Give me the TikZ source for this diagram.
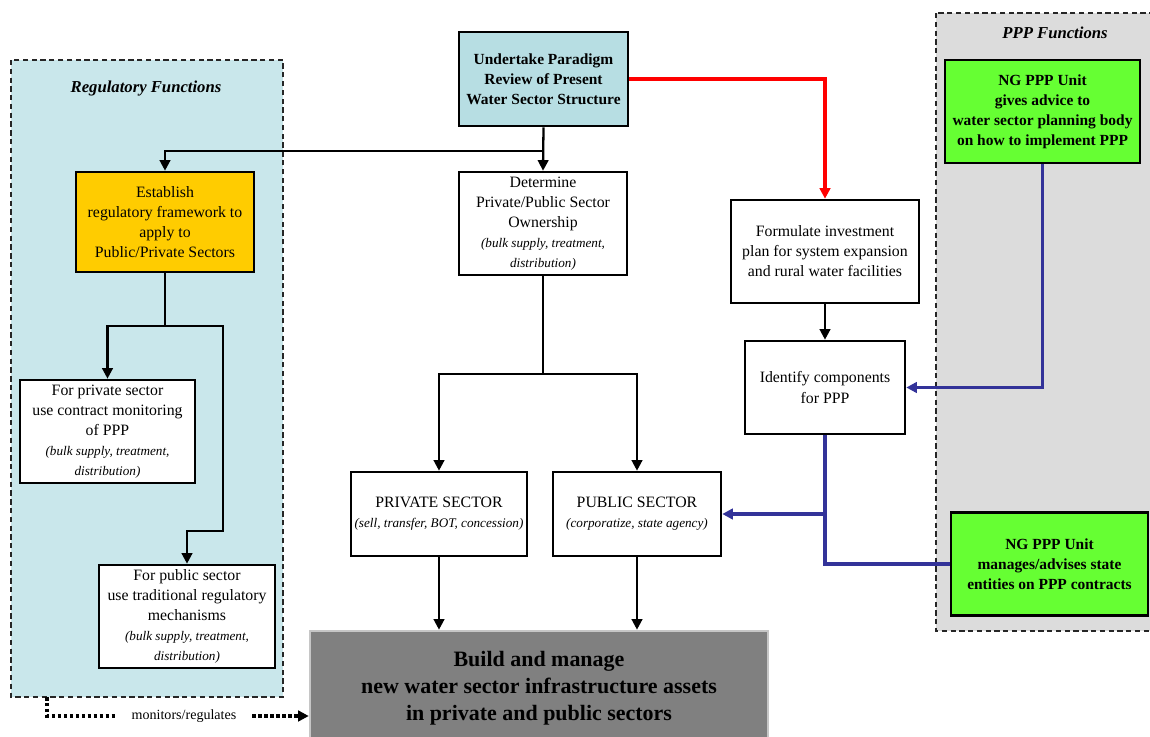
\documentclass[tikz,border=0pt]{standalone}
\usepackage{fontspec}
\setmainfont{Liberation Serif}
\usetikzlibrary{arrows.meta}
\definecolor{regfill}{HTML}{C9E7EB}
\definecolor{pppfill}{HTML}{DCDCDC}
\definecolor{reviewfill}{HTML}{B7DEE3}
\definecolor{framegold}{HTML}{FFCC00}
\definecolor{nggreen}{HTML}{66FF33}
\definecolor{buildgray}{HTML}{808080}
\definecolor{pppblue}{HTML}{333399}
\newcommand{\subtxt}[1]{{\fontsize{7.5}{9}\selectfont\itshape #1}}
\begin{document}
\begin{tikzpicture}[x=0.02cm,y=-0.02cm,>={Triangle[length=6pt,width=6pt]},
	box/.style={draw,line width=1.5pt,align=center,inner sep=2pt,font=\fontsize{9}{11.4}\selectfont},
	boldbox/.style={box,font=\fontsize{8.8}{11.4}\selectfont\bfseries},
	area/.style={draw,densely dashed,line width=0.6pt,gray!30!black},
	areatitle/.style={font=\fontsize{9.5}{11}\selectfont\bfseries\itshape},
	link/.style={line width=1.3pt},
	redlink/.style={line width=2pt,red},
	bluelink/.style={line width=2pt,pppblue},
	dotlink/.style={line width=1.8pt,dash pattern=on 2pt off 1.4pt}]
	\useasboundingbox (0,0) rectangle (1150,737);
	% shaded function areas
	\fill[regfill] (11,60) rectangle (283,697);
	\draw[area] (11,60) rectangle (283,697);
	\node[areatitle] (regtitle) at (146,89) {Regulatory Functions};
	\fill[pppfill] (936,13) rectangle (1152,631);
	\draw[area] (936,13) rectangle (1152,631);
	\node[areatitle] (ppptitle) at (1055,33) {PPP Functions};
	% boxes
	\node[boldbox,fill=reviewfill,minimum width=3.38cm,minimum height=1.88cm] (review) at (543.5,79)
		{Undertake Paradigm\\Review of Present\\Water Sector Structure};
	\node[box,fill=framegold,minimum width=3.56cm,minimum height=2cm] (frame) at (165,222)
		{Establish\\regulatory framework to\\apply to\\Public/Private Sectors};
	\node[box,fill=white,minimum width=3.36cm,minimum height=2.06cm] (owner) at (543,223.5)
		{Determine\\Private/Public Sector\\Ownership\\\subtxt{(bulk supply, treatment,}\\\subtxt{distribution)}};
	\node[box,fill=white,minimum width=3.76cm,minimum height=2.06cm] (invest) at (825,251.5)
		{Formulate investment\\plan for system expansion\\and rural water facilities};
	\node[box,fill=white,minimum width=3.2cm,minimum height=1.86cm] (ident) at (825,387.5)
		{Identify components\\for PPP};
	\node[box,fill=white,minimum width=3.5cm,minimum height=2.06cm] (privmon) at (107.5,431.5)
		{For private sector\\use contract monitoring\\of PPP\\\subtxt{(bulk supply, treatment,}\\\subtxt{distribution)}};
	\node[box,fill=white,minimum width=3.52cm,minimum height=2.06cm] (pubreg) at (187,616.5)
		{For public sector\\use traditional regulatory\\mechanisms\\\subtxt{(bulk supply, treatment,}\\\subtxt{distribution)}};
	\node[box,fill=white,minimum width=3.36cm,minimum height=1.68cm] (privsec) at (439,514)
		{PRIVATE SECTOR\\\subtxt{(sell, transfer, BOT, concession)}};
	\node[box,fill=white,minimum width=3.36cm,minimum height=1.68cm] (pubsec) at (637,514)
		{PUBLIC SECTOR\\\subtxt{(corporatize, state agency)}};
	\node[boldbox,fill=nggreen,minimum width=3.9cm,minimum height=2.06cm] (advice) at (1042.5,111.5)
		{NG PPP Unit\\gives advice to\\water sector planning body\\on how to implement PPP};
	\node[boldbox,fill=nggreen,minimum width=3.94cm,minimum height=2.06cm] (manage) at (1049.5,564)
		{NG PPP Unit\\manages/advises state\\entities on PPP contracts};
	\node[box,draw=gray!45,fill=buildgray,minimum width=9.16cm,minimum height=2.28cm,
		font=\fontsize{12.5}{15.5}\selectfont\bfseries] (build) at (539,688)
		{Build and manage\\new water sector infrastructure assets\\in private and public sectors};
	% connectors
	\draw[link,->] (review.south) -- (owner.north);
	\draw[link,->] (review.south) ++(0,24) -| (frame.north);
	\draw[redlink,->] (review.east) -| (invest.north);
	\draw[link,->] (invest.south) -- (ident.north);
	\draw[link,->] (frame.south) -- ++(0,53) -| (privmon.north);
	\draw[link,->] (frame.south) ++(0,53) -| ++(58,205) -| (pubreg.north);
	\draw[link,->] (owner.south) -- ++(0,98) -| (privsec.north);
	\draw[link,->] (owner.south) ++(0,98) -| (pubsec.north);
	\draw[link,->] (privsec.south) -- (privsec.south |- build.north);
	\draw[link,->] (pubsec.south) -- (pubsec.south |- build.north);
	\draw[bluelink,->] (advice.south) |- (ident.east);
	\draw[bluelink] (ident.south) |- (manage.west);
	\draw[bluelink,->] (ident.south |- pubsec.east) -- (pubsec.east);
	% monitoring link
	\coordinate (regfoot) at (47,697);
	\node[inner xsep=9pt,font=\fontsize{8}{10}\selectfont] (mon) at (184,716) {monitors/regulates};
	\draw[dotlink] (regfoot) |- (mon.west);
	\draw[dotlink,->] (mon.east) -- (mon.east -| build.west);
\end{tikzpicture}
\end{document}
